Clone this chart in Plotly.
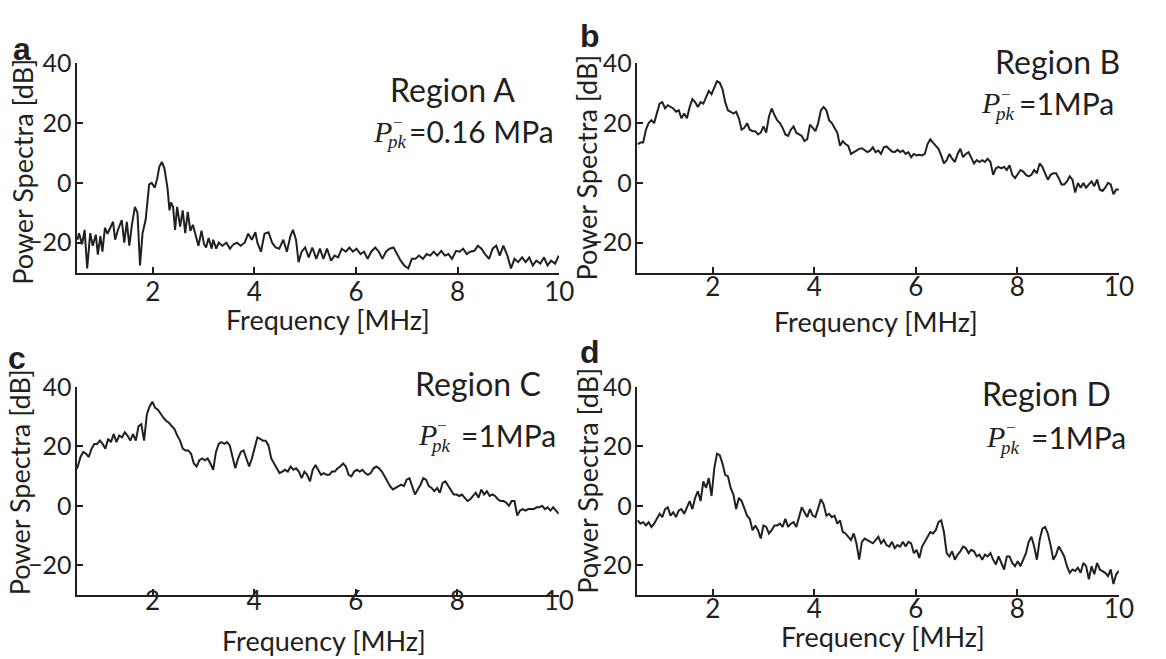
import numpy as np
import plotly.graph_objects as go

W, H = 1166, 659
INK = "#231f20"
SANS = "Lato"
SERIF = "Liberation Serif"

# ---------------- data ----------------
freq_a = [0.52, 0.55, 0.61, 0.66, 0.71, 0.77, 0.82, 0.88, 0.92, 0.97,
          1.01, 1.06, 1.11, 1.17, 1.22, 1.26, 1.31, 1.39, 1.44, 1.49,
          1.54, 1.59, 1.65, 1.70, 1.75, 1.80, 1.86, 1.93, 1.98, 2.04,
          2.09, 2.13, 2.18, 2.23, 2.29, 2.33, 2.36, 2.40, 2.44, 2.48,
          2.54, 2.59, 2.64, 2.69, 2.74, 2.79, 2.85, 2.90, 2.96, 3.01,
          3.05, 3.10, 3.16, 3.19, 3.25, 3.30, 3.37, 3.45, 3.52, 3.59,
          3.66, 3.73, 3.81, 3.88, 3.95, 4.02, 4.06, 4.13, 4.20, 4.28,
          4.35, 4.42, 4.49, 4.57, 4.64, 4.71, 4.76, 4.82, 4.87,
          4.93, 5.00, 5.07, 5.14, 5.22, 5.29, 5.36, 5.43, 5.51, 5.58,
          5.65, 5.72, 5.80, 5.87, 5.94, 6.01, 6.09, 6.16, 6.23, 6.30,
          6.38, 6.45, 6.52, 6.59, 6.66, 6.74, 6.81, 6.88, 6.95, 7.03,
          7.10, 7.17, 7.24, 7.32, 7.39, 7.46, 7.53, 7.60, 7.68, 7.75,
          7.82, 7.89, 7.97, 8.04, 8.11, 8.18, 8.25, 8.33, 8.40, 8.47,
          8.54, 8.62, 8.69, 8.76, 8.83, 8.90, 8.98, 9.05, 9.12, 9.19,
          9.27, 9.34, 9.41, 9.48, 9.55, 9.63, 9.70, 9.77, 9.84, 9.92, 9.99]
power_a = [-19, -16.8, -20.5, -15.7, -28.6, -16.8, -21, -17.3, -24, -17.8,
           -23, -15, -17, -14.6, -13, -19, -16, -12.4, -20, -13,
           -21, -14, -8, -10, -27.6, -16.8, -12.4, -0.5, 0, -1.6,
           1.6, 5.4, 7, 4.9, -1.6, -9.2, -6.5, -8, -15.7, -8,
           -14.6, -9.2, -16.8, -9.7, -16, -14, -17.8, -21, -16, -20.5,
           -21.6, -18.4, -22, -19, -22, -20, -21, -20, -22, -20.5,
           -20, -21, -20, -17, -19, -16.5, -20, -23, -17, -16.5,
           -20, -21.6, -22, -19, -23, -17.8, -15.7, -19, -26.5,
           -23, -21.6, -24.9, -21.6, -25.4, -22, -25.4, -22, -26, -24.3,
           -24.9, -22, -23, -21.6, -23, -22, -23.8, -23, -25.4, -23,
           -21.6, -23, -25.4, -23, -22, -21.6, -23.8, -26, -27.6, -28.6,
           -25.4, -25.4, -24.3, -25.4, -23.8, -24.3, -23, -24.3, -22.7, -24.3,
           -23.8, -25.4, -22.7, -23, -22, -23.8, -23, -22.7, -21, -22,
           -23.8, -25.4, -22, -21, -24.3, -21, -24.3, -28.6, -25.4, -26.5,
           -24.9, -26.5, -24.9, -27.6, -26, -27, -24.9, -27.6, -26, -27, -24.3]

power_b = [13, 13.5, 13.5, 17.8, 20, 21, 20, 23.2, 26.5, 27,
           24.9, 26, 25.4, 24.9, 23.8, 24.3, 21.6, 23.2, 21.6, 25.4,
           28, 27, 25.4, 27, 26.5, 28.6, 30.8, 29.7, 31.9, 34,
           33.5, 31.4, 27, 24.3, 23.8, 23.2, 23.8, 21.6, 17.8, 18.4,
           20, 17.8, 17.3, 17.3, 16.2, 16.8, 18.9, 16.8, 22.2, 24.9,
           22.7, 21, 20, 18.4, 16.2, 15.7, 17.8, 18.9, 16.8, 16.2,
           15.7, 14, 14.6, 19.5, 18.4, 17.3, 20, 24.3, 25.4, 24.3,
           21, 20, 18.4, 16.8, 12.4, 14, 13, 12.4, 9.7, 10.3,
           10.8, 11.4, 11.6, 10.8, 10.3, 10.8, 11.9, 10.3, 10.8, 9.7,
           11.9, 12.2, 11.4, 10.5, 10.3, 11.1, 10.3, 10.8, 9.7, 10.3,
           8.6, 9.7, 9.2, 9.4, 9.2, 9.7, 13, 14.6, 13.5, 12.4,
           11.4, 9.2, 6.5, 7.6, 9.7, 8.1, 7, 9.7, 11.4, 8.6,
           9.7, 10.3, 8.6, 6.5, 7.6, 7, 7.6, 7, 8.1, 7,
           2.7, 4.9, 5.4, 4.9, 5.4, 4.3, 5.9, 2.7, 1.6, 3.2,
           4.3, 3.8, 2.7, 2.2, 2.7, 4.3, 3.2, 6.5, 5.4, 3.2,
           1.1, 2.7, 3.2, 3.2, 1.6, -0.5, -0.5, 0.5, 2.2, 1.1,
           -3.2, 0, -1.6, 0, -1.6, -0.5, 0.5, -1.1, 1.1, -2.2,
           -2.7, -1.6, 0, -0.5, -3.8, -2.2, -2.2]

power_c = [11.5, 13.2, 16.4, 18.1, 17.5, 16.4, 19.2, 20.8, 20.8, 21.9,
           20.8, 19.2, 22.5, 21.4, 24.1, 21.4, 23.6, 23, 24.7, 23.6,
           21.9, 24.1, 21.9, 26.8, 27.4, 21.9, 30.7, 33.4, 35, 32.9,
           32.3, 30.7, 29.6, 28.5, 27.9, 26.8, 25.8, 23.6, 21.9, 19.2,
           18.6, 18.6, 17.5, 14.2, 13.2, 15.3, 15.9, 15.3, 15.9, 14.2,
           12.1, 18.1, 20.8, 21.4, 20.8, 21.4, 20.3, 16.4, 12.6, 15.9,
           18.1, 18.6, 15.9, 13.2, 15.9, 19.7, 23, 22.5, 21.9, 21.9,
           20.3, 15.9, 14.2, 12.6, 11, 11.5, 12.1, 11.5, 13.2, 12.1,
           12.6, 11.5, 9.3, 11.5, 10.4, 8.2, 12.1, 13.7, 12.1, 10.4,
           11, 10.4, 10.4, 11.5, 11.5, 12.6, 13.2, 14.2, 13.2, 10.4,
           9.9, 11.5, 12.1, 11.5, 12.1, 11, 10.4, 11, 12.6, 13.2,
           12.6, 11.5, 9.9, 8.2, 6.6, 5.5, 6, 6.6, 7.1, 6.6,
           8.8, 9.3, 6.6, 3.8, 5.5, 7.1, 9.3, 8.8, 6.6, 6,
           4.9, 6, 4.4, 7.7, 8.2, 6.6, 4.9, 3.8, 3.8, 3.3,
           3.8, 2.7, 1.6, 2.2, 3.3, 4.4, 2.7, 5.5, 3.8, 4.9,
           3.3, 3.8, 3.3, 2.2, 1.6, 1.6, 1.1, 0, 1.6, 1.6,
           -3.3, -1.6, -1.1, -1.6, -1.1, -1.1, -1.1, -0.5, -0.5, 0,
           -1.1, -0.5, -1.6, -0.5, -1.6, -2.7]

power_d = [-4.9, -6, -5.5, -6.6, -5.5, -7.1, -6, -4.4, -2.7, -3.8,
           -1.1, -0.5, -3.3, -2.2, -3.8, -1.6, -1.1, -2.7, -0.5, 1.6,
           -1.1, 2.7, 4.9, 1.6, 8.2, 6, 9.3, 3.3, 12.6, 17.5,
           17, 14.2, 10.4, 9.9, 6, 3.8, -1.1, 2.7, 1.6, -1.1,
           -3.3, -4.4, -8.2, -6.6, -8.2, -11, -6.6, -7.1, -9.3, -8.2,
           -6.6, -6.6, -6, -7.1, -4.4, -7.1, -6, -5.5, -7.1, -3.8,
           -0.5, -2.2, -3.8, -1.1, -3.3, -3.8, -0.5, 2.2, 0.5, -3.3,
           -2.7, -3.8, -3.3, -6, -4.9, -8.8, -9.3, -10.4, -11.5, -9.3,
           -12.6, -18.1, -12.1, -11, -11.5, -12.1, -12.6, -11.5, -10.4, -12.6,
           -11.5, -13.2, -13.7, -12.1, -14.2, -13.2, -13.7, -12.1, -13.7, -12.1,
           -12.6, -15.9, -14.8, -17.5, -13.7, -12.1, -10.4, -8.8, -9.3, -8.2,
           -5.5, -4.9, -8.8, -15.9, -17, -15.3, -18.1, -16.4, -15.3, -13.7,
           -14.2, -15.9, -14.8, -15.3, -17, -16.4, -18.1, -16.4, -17, -15.9,
           -18.1, -19.7, -17, -19.2, -21.4, -17, -17, -19.2, -20.3, -18.6,
           -20.3, -18.1, -15.9, -12.1, -10.4, -13.7, -18.1, -11.5, -7.7, -7.1,
           -9.3, -13.2, -18.1, -16.4, -13.7, -15.3, -17, -20.3, -22.5, -21.4,
           -21.9, -20.8, -22.5, -19.2, -20.3, -24.7, -20.3, -23, -19.2, -21.4,
           -21.9, -22.5, -23.6, -21.4, -26.3, -23, -21.9]

# uniform FFT frequency grids for panels b-d (first/last bin)
freq_b = np.linspace(0.52, 10.0, len(power_b))
freq_c = np.linspace(0.47, 10.0, len(power_c))
freq_d = np.linspace(0.52, 10.0, len(power_d))

x_ticks = [2, 4, 6, 8, 10]
y_ticks = [-20, 0, 20, 40]
x_range = [0.5, 10]
y_range = [-30, 40]
panel_letters = ["a", "b", "c", "d"]
region_names = ["Region A", "Region B", "Region C", "Region D"]
pressures = ["=0.16 MPa", "=1MPa", "=1MPa", "=1MPa"]
x_title = "Frequency [MHz]"
y_title = "Power Spectra [dB]"

# ---------------- layout helpers ----------------
def fx(px):
    return px / W

def fy(py):
    return 1 - py / H

# plot boxes in pixels: left, right, top, bottom
boxes = [(77.5, 566.5, 48.5, 263), (645, 1133.5, 48.5, 263),
         (77.5, 566, 380, 593.5), (645, 1133.5, 380, 593.5)]
xlab_standoff = [-5, -10, -18, -10]

fig = go.Figure()
series = [(freq_a, power_a), (freq_b, power_b), (freq_c, power_c), (freq_d, power_d)]
layout_axes = {}
for i, ((fr, pw), box) in enumerate(zip(series, boxes)):
    n = "" if i == 0 else str(i + 1)
    fig.add_trace(go.Scatter(x=fr, y=pw, mode="lines",
                             line=dict(color=INK, width=2),
                             xaxis="x" + n, yaxis="y" + n,
                             showlegend=False, hoverinfo="skip"))
    l, r, t, b = box
    common = dict(showline=True, linecolor=INK, linewidth=2,
                  ticks="inside", ticklen=6, tickwidth=1.5, tickcolor=INK,
                  showgrid=False, zeroline=False)
    layout_axes["xaxis" + n] = dict(common, domain=[fx(l), fx(r)], range=x_range,
                                    tickvals=x_ticks, anchor="y" + n,
                                    tickfont=dict(family=SANS, size=26, color=INK),
                                    ticklabelstandoff=xlab_standoff[i])
    layout_axes["yaxis" + n] = dict(common, domain=[fy(b), fy(t)], range=y_range,
                                    tickvals=y_ticks, anchor="x" + n,
                                    tickfont=dict(family=SANS, size=25, color=INK),
                                    ticklabelstandoff=-2)

fig.update_layout(**layout_axes)

anns = []

def ann(text, px, py, size, family=SANS, xanchor="center", yanchor="middle",
        angle=0, color=INK):
    anns.append(dict(text=text, x=fx(px), y=fy(py), xref="paper", yref="paper",
                     showarrow=False, xanchor=xanchor, yanchor=yanchor,
                     textangle=angle, font=dict(family=family, size=size, color=color)))

# panel letters
letter_pos = [(22, 34), (598, 20), (17, 351), (598, 344)]
for letter, (px, py) in zip(panel_letters, letter_pos):
    ann("<b>" + letter + "</b>", px, py, 32, family="Liberation Sans")

# axis titles
ytitle_pos = [(22, 160), (594, 155), (20, 478), (595, 476)]
xtitle_pos = [(332, 311), (887, 313), (328, 640), (895, 636)]
for (px, py) in ytitle_pos:
    ann(y_title, px, py, 27, angle=-90)
for (px, py) in xtitle_pos:
    ann(x_title, px, py, 27)

# region labels
region_pos = [(458, 75), (1071, 47), (484, 377), (1060, 387)]
for name, (px, py) in zip(region_names, region_pos):
    ann(name, px, py, 32)

# peak negative pressure labels: P (left x, mid y), value left x
p_pos = [(377, 118, 412), (993, 89, 1030), (422, 429, 465), (998, 431, 1042)]
for val, (plx, pmy, vx) in zip(pressures, p_pos):
    ann("<i>P</i>", plx - 1, pmy, 30, family=SERIF, xanchor="left")
    ann("\u2212", plx + 19, pmy - 9, 17, family=SERIF, xanchor="left")
    ann("<i>pk</i>", plx + 12, pmy + 11, 19, family=SERIF, xanchor="left")
    ann(val, vx, pmy, 30, xanchor="left")

fig.update_layout(annotations=anns, width=W, height=H,
                  margin=dict(l=0, r=0, t=0, b=0),
                  paper_bgcolor="white", plot_bgcolor="white",
                  font=dict(family=SANS, color=INK))

fig.write_html("out.html")
